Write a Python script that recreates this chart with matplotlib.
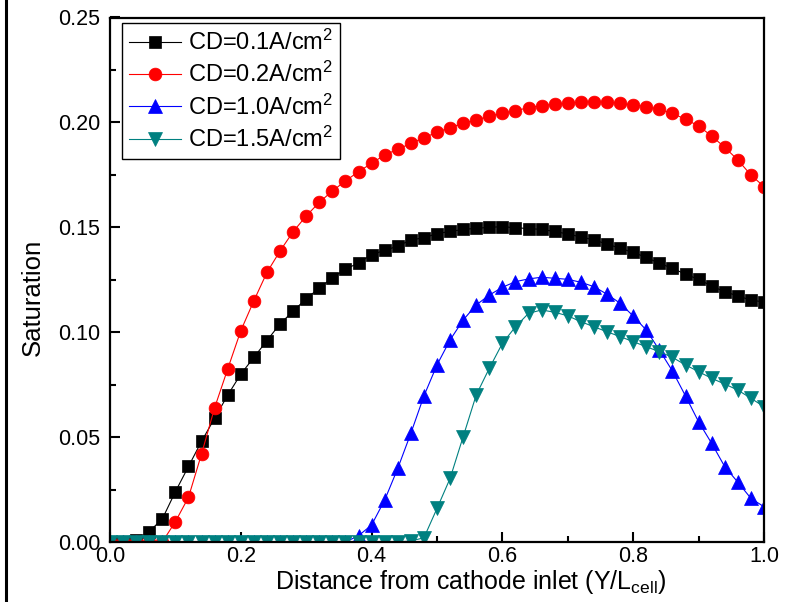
import numpy as np
import matplotlib
matplotlib.use("Agg")
import matplotlib.pyplot as plt
from matplotlib.lines import Line2D
from matplotlib.ticker import MultipleLocator, FormatStrFormatter

plt.rcParams['font.family'] = ['Liberation Sans', 'DejaVu Sans']
plt.rcParams['mathtext.fontset'] = 'custom'
plt.rcParams['mathtext.rm'] = 'Liberation Sans'
plt.rcParams['mathtext.it'] = 'Liberation Sans'

x = np.round(np.arange(0, 51) * 0.02, 2)

cd01 = [0, 0, 0.001, 0.005, 0.011, 0.024, 0.036, 0.048, 0.059, 0.070,
        0.080, 0.088, 0.096, 0.104, 0.110, 0.116, 0.121, 0.126, 0.130, 0.133,
        0.137, 0.139, 0.141, 0.144, 0.145, 0.147, 0.148, 0.149, 0.1495, 0.150,
        0.1503, 0.1498, 0.1494, 0.149, 0.148, 0.1468, 0.1454, 0.144, 0.142, 0.140,
        0.138, 0.1357, 0.1328, 0.1305, 0.1276, 0.1252, 0.122, 0.1193, 0.1173, 0.1153,
        0.1144]
cd02 = [0, 0, 0, 0, 0, 0.0097, 0.0213, 0.042, 0.064, 0.0825,
        0.1007, 0.115, 0.1285, 0.1387, 0.1479, 0.1554, 0.1619, 0.1673, 0.1721, 0.1765,
        0.1805, 0.1845, 0.1872, 0.190, 0.1927, 0.1953, 0.1975, 0.1996, 0.2011, 0.203,
        0.2043, 0.2056, 0.207, 0.208, 0.2086, 0.2091, 0.2096, 0.2099, 0.2096, 0.2091,
        0.2083, 0.2075, 0.2062, 0.2043, 0.2015, 0.1983, 0.1935, 0.1881, 0.1821, 0.1749,
        0.1694]
cd10 = [0, 0, 0, 0, 0, 0, 0, 0, 0, 0,
        0, 0, 0, 0, 0, 0, 0, 0, 0, 0.003,
        0.0081, 0.020, 0.0351, 0.0518, 0.0696, 0.0844, 0.0963, 0.1058, 0.113, 0.1177,
        0.1214, 0.1241, 0.1254, 0.1262, 0.1257, 0.1252, 0.1238, 0.1217, 0.1181, 0.1138,
        0.1077, 0.101, 0.0915, 0.0815, 0.0696, 0.0573, 0.047, 0.0359, 0.0285, 0.0208,
        0.0168]
cd15 = [0, 0, 0, 0, 0, 0, 0, 0, 0, 0,
        0, 0, 0, 0, 0, 0, 0, 0, 0, 0,
        0, 0, 0, 0.0005, 0.002, 0.016, 0.0303, 0.0502, 0.0701, 0.0828,
        0.0947, 0.1026, 0.109, 0.1106, 0.1095, 0.1078, 0.105, 0.1026, 0.1002, 0.0979,
        0.0955, 0.0931, 0.0907, 0.088, 0.0844, 0.0812, 0.078, 0.0753, 0.0724, 0.0685,
        0.0645]

labels = ["CD=0.1A/cm$^2$", "CD=0.2A/cm$^2$", "CD=1.0A/cm$^2$", "CD=1.5A/cm$^2$"]
colors = ["#000000", "#FF0000", "#0000FF", "#008080"]
markers = ["s", "o", "^", "v"]
msizes = [8.3, 9.2, 10, 10]
series = [cd01, cd02, cd10, cd15]

fig = plt.figure(figsize=(7.88, 6.02), dpi=100)
ax = fig.add_axes([110/788, 1-542/602, (764-110)/788, (542-17.5)/602])

for y, lab, c, m, ms in zip(series, labels, colors, markers, msizes):
    ax.plot(x, y, color=c, marker=m, markersize=ms, lw=0.8, label=lab,
            markeredgewidth=0.5, markeredgecolor=c)

ax.set_xlim(0, 1.0)
ax.set_ylim(0, 0.25)
ax.xaxis.set_major_locator(MultipleLocator(0.2))
ax.xaxis.set_minor_locator(MultipleLocator(0.1))
ax.yaxis.set_major_locator(MultipleLocator(0.05))
ax.yaxis.set_minor_locator(MultipleLocator(0.025))
ax.xaxis.set_major_formatter(FormatStrFormatter('%.1f'))
ax.yaxis.set_major_formatter(FormatStrFormatter('%.2f'))
ax.tick_params(which='both', direction='in', top=False, right=False, width=1.5)
ax.tick_params(which='major', length=7, labelsize=15.5)
ax.tick_params(which='minor', length=4)
ax.tick_params(axis='y', pad=7)
ax.tick_params(axis='x', pad=3)
for s in ax.spines.values():
    s.set_linewidth(1.6)

ax.set_xlabel("Distance from cathode inlet (Y/L$_{\\rm cell}$)", fontsize=18)
ax.xaxis.set_label_coords(0.552, -0.049)
ax.xaxis.label.set_va('top')
ax.set_ylabel("Saturation", fontsize=18.5)
ax.yaxis.set_label_coords(-0.100, 0.466)

leg = ax.legend(loc='upper left', bbox_to_anchor=(0.018, 0.99), fontsize=17,
                frameon=True, fancybox=False, shadow=False, framealpha=1,
                edgecolor='black', handlelength=2.2, handletextpad=0.3,
                labelspacing=0.3, borderpad=0.3, borderaxespad=0.0)
leg.get_frame().set_linewidth(1.0)

fig.add_artist(Line2D([6/788, 6/788], [0, 1], color='black', lw=2.2,
                      transform=fig.transFigure))

fig.savefig("out.png", dpi=100)
